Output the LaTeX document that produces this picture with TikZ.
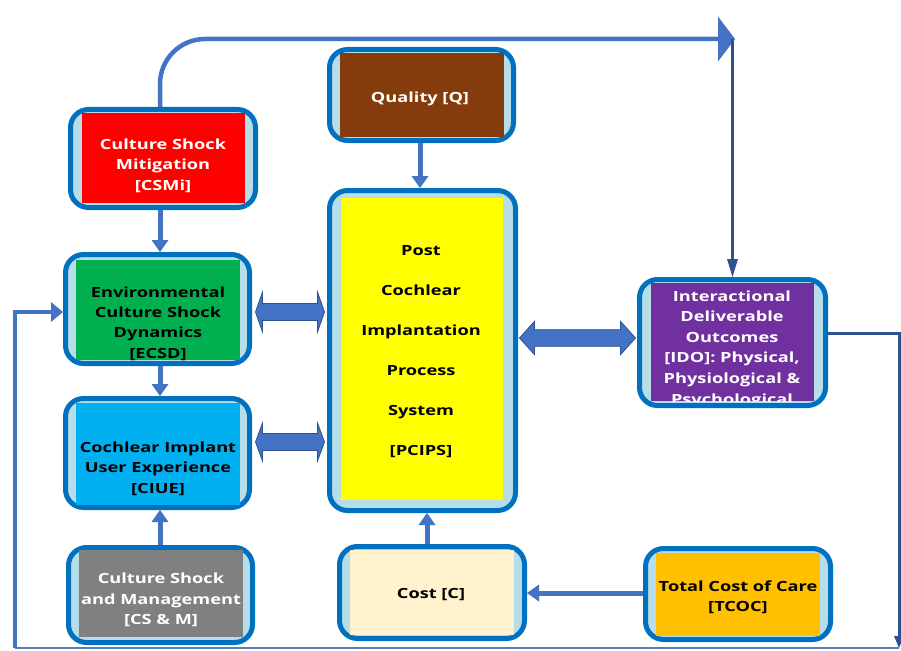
\documentclass[tikz,border=0pt]{standalone}
\usepackage{fontspec}
\setmainfont{Open Sans}[FakeStretch=1.3]
\usetikzlibrary{arrows.meta,calc}

\definecolor{bordc}{HTML}{0070C0}
\definecolor{lightc}{HTML}{B7DEE8}
\definecolor{arrc}{HTML}{4472C4}
\definecolor{arrdk}{HTML}{2F528F}
\definecolor{bottomc}{HTML}{5B7CB5}
\definecolor{cred}{HTML}{FF0000}
\definecolor{cgreen}{HTML}{00B050}
\definecolor{ccyan}{HTML}{00B0F0}
\definecolor{cgray}{HTML}{808080}
\definecolor{cbrown}{HTML}{843C0C}
\definecolor{cyellow}{HTML}{FFFF00}
\definecolor{cpurple}{HTML}{7030A0}
\definecolor{ccream}{HTML}{FFF2CC}
\definecolor{corange}{HTML}{FFC000}

\tikzset{
  outerbox/.style={draw=bordc, line width=5pt, fill=lightc, rounded corners=18pt, inner sep=0pt},
  innerbox/.style={inner sep=0pt, draw=none},
  lbl/.style={align=center, inner sep=0pt, font=\fontsize{14}{20.3}\selectfont\bfseries},
  flow/.style={draw=arrc, line width=5pt, -{Triangle[width=17pt,length=12pt,line width=0pt]}},
  topline/.style={draw=arrc, line width=4.5pt, rounded corners=45pt,
    -{Triangle[width=45pt,length=17pt,line width=0pt]}},
  dropline/.style={draw=arrdk, line width=3.5pt, -{Triangle[width=11pt,length=18pt,line width=0pt]}},
  loopline/.style={draw=arrdk, line width=3pt},
  loopin/.style={draw=arrc, line width=4.5pt, -{Triangle[width=20pt,length=12pt,line width=0pt]}},
  bottomline/.style={draw=bottomc, line width=2pt},
  blockfill/.style={fill=arrc, draw=arrdk, line width=0.8pt, line join=miter}
}

% double-headed block arrow between two tip coordinates on one level
\newcommand{\twowayblock}[5]{%
  \filldraw[blockfill] (#1) -- ($(#1)+(#5,-#3)$) -- ($(#1)+(#5,-#4)$)
    -- ($(#2)+(-#5,-#4)$) -- ($(#2)+(-#5,-#3)$) -- (#2)
    -- ($(#2)+(-#5,#3)$) -- ($(#2)+(-#5,#4)$) -- ($(#1)+(#5,#4)$)
    -- ($(#1)+(#5,#3)$) -- cycle;}

\begin{document}
\begin{tikzpicture}[x=1pt,y=-1pt]
\useasboundingbox (0,0) rectangle (901,650);
\fill[white] (0,0) rectangle (901,650);

% frames
\node[outerbox, minimum width=185, minimum height=98]  (csmi)  at (163,158.5) {};
\node[outerbox, minimum width=184, minimum height=109] (ecsd)  at (157.5,309) {};
\node[outerbox, minimum width=184, minimum height=109] (ciue)  at (157.5,453) {};
\node[outerbox, minimum width=184, minimum height=95]  (csm)   at (160.5,595) {};
\node[outerbox, minimum width=184, minimum height=91]  (qual)  at (421.5,95) {};
\node[outerbox, minimum width=186, minimum height=320] (pcips) at (422.5,350.5) {};
\node[outerbox, minimum width=186, minimum height=126] (ido)   at (732.5,342.5) {};
\node[outerbox, minimum width=185, minimum height=92]  (cost)  at (432,592.5) {};
\node[outerbox, minimum width=185, minimum height=91]  (tcoc)  at (738,594) {};

% coloured panels
\node[innerbox, fill=cred,    minimum width=163, minimum height=90]  (csmiP)  at (163.5,158) {};
\node[innerbox, fill=cgreen,  minimum width=164, minimum height=100] (ecsdP)  at (158,310) {};
\node[innerbox, fill=ccyan,   minimum width=164, minimum height=102] (ciueP)  at (158,454) {};
\node[innerbox, fill=cgray,   minimum width=164, minimum height=87]  (csmP)   at (161,593.5) {};
\node[innerbox, fill=cbrown,  minimum width=164, minimum height=84]  (qualP)  at (422,95) {};
\node[innerbox, fill=cyellow, minimum width=162, minimum height=302] (pcipsP) at (422,349) {};
\node[innerbox, fill=cpurple, minimum width=163, minimum height=118] (idoP)   at (732.5,342) {};
\node[innerbox, fill=ccream,  minimum width=164, minimum height=85]  (costP)  at (432,592.5) {};
\node[innerbox, fill=corange, minimum width=164, minimum height=83]  (tcocP)  at (738,594.5) {};

% labels
\node[lbl, text=white] (csmiT) at (163,165.5) {Culture Shock\\Mitigation\\{[CSMi]}};
\node[lbl, text=black] (ecsdT) at (158,323.5) {Environmental\\Culture Shock\\Dynamics\\{[ECSD]}};
\node[lbl, text=black] (ciueT) at (158,468.5) {Cochlear Implant\\User Experience\\{[CIUE]}};
\node[lbl, text=white] (csmT)  at (161,600) {Culture Shock\\and Management\\{[CS \& M]}};
\node[lbl, text=white] (qualT) at (420,99) {Quality [Q]};
\node[lbl, text=black, font=\fontsize{14}{40}\selectfont\bfseries] (pcipsT) at (421,352)
  {Post\\Cochlear\\Implantation\\Process\\System\\{[PCIPS]}};
% the outcomes text runs past the bottom of its panel and is cut off there
\begin{scope}
  \clip (idoP.north west) rectangle (idoP.south east);
  \node[lbl, text=white, font=\fontsize{14}{20.6}\selectfont\bfseries] (idoT) at (732,349)
    {Interactional\\Deliverable\\Outcomes\\{[IDO]: Physical,}\\Physiological \&\\Psychological};
\end{scope}
\node[lbl, text=black] (costT) at (431,595) {Cost [C]};
\node[lbl, text=black] (tcocT) at (738,597) {Total Cost of Care\\{[TCOC]}};

% straight flows
\draw[flow] (csmi.south -| 160,0) -- (ecsd.north -| 160,0);
\draw[flow] (ecsd.south -| 160,0) -- (ciue.north -| 160,0);
\draw[flow] (csm.north -| 160,0) -- (ciue.south -| 160,0);
\draw[flow] (qual.south -| 420,0) -- (pcips.north -| 420,0);
\draw[flow] (cost.north -| 427,0) -- (pcips.south -| 427,0);
\draw[flow] (tcoc.west |- 0,593) -- (cost.east |- 0,593);

% two-way exchanges with the process system
\coordinate (b1l) at ($(ecsd.east |- 0,312)+(3.5,0)$);
\coordinate (b1r) at ($(pcips.west |- 0,312)+(-2.5,0)$);
\coordinate (b2l) at ($(ciue.east |- 0,442)+(3.5,0)$);
\coordinate (b2r) at ($(pcips.west |- 0,442)+(-2.5,0)$);
\coordinate (b3l) at ($(pcips.east |- 0,338)+(1.5,0)$);
\coordinate (b3r) at ($(ido.west |- 0,338)+(-1.5,0)$);
\twowayblock{b1l}{b1r}{20}{8.5}{7}
\twowayblock{b2l}{b2r}{19}{8.5}{7}
\twowayblock{b3l}{b3r}{16.7}{8.3}{15}

% mitigation feed over the top to the outcomes
\coordinate (jn) at (735,39);
\draw[topline] (csmi.north -| 160,0) |- (jn);
\draw[dropline] (ido.north |- jn) -- (ido.north);

% feedback loop round the outside
\coordinate (br) at (899,648);
\coordinate (bl) at (15,648);
\draw[loopline, -{Triangle[width=10pt,length=12pt,line width=0pt]}]
  (ido.east |- 0,333) -| (br);
\draw[bottomline] (br) -- (bl);
\draw[loopin, rounded corners=0pt] (bl) |- (ecsd.west |- 0,312);
\end{tikzpicture}
\end{document}
